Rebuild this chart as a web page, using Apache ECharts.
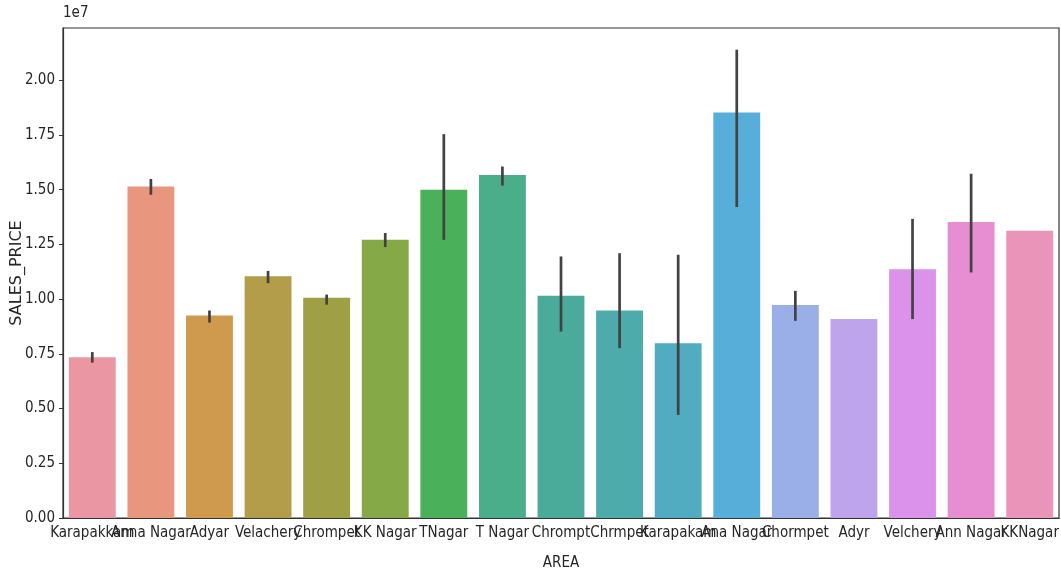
<!DOCTYPE html>
<html>
<head>
<meta charset="utf-8">
<script src="https://cdn.jsdelivr.net/npm/echarts@6/dist/echarts.min.js"></script>
<style>
  html, body { margin: 0; padding: 0; background: #fff; }
  #chart { width: 1061px; height: 575px; }
</style>
</head>
<body>
<div id="chart"></div>
<script>
// Mean sales price per area, with 95% confidence intervals
const areas = ['Karapakkam', 'Anna Nagar', 'Adyar', 'Velachery', 'Chrompet', 'KK Nagar',
  'TNagar', 'T Nagar', 'Chrompt', 'Chrmpet', 'Karapakam', 'Ana Nagar', 'Chormpet',
  'Adyr', 'Velchery', 'Ann Nagar', 'KKNagar'];
const meanPrice = [7350000, 15150000, 9250000, 11050000, 10060000, 12710000,
  15000000, 15670000, 10150000, 9480000, 7990000, 18530000, 9730000,
  9090000, 11370000, 13520000, 13120000];
const ciLow = [7100000, 14770000, 8930000, 10730000, 9750000, 12380000,
  12710000, 15190000, 8520000, 7760000, 4710000, 14210000, 9010000,
  null, 9090000, 11220000, null];
const ciHigh = [7580000, 15490000, 9480000, 11290000, 10210000, 13020000,
  17540000, 16060000, 11950000, 12100000, 12030000, 21400000, 10380000,
  null, 13670000, 15730000, null];
const barColors = ['#ea96a3', '#e8977e', '#d09a4e', '#b49d4a', '#9f9f46', '#85a946',
  '#4ab05a', '#4bae8b', '#4bab9b', '#4dabac', '#51abc1', '#56aed9', '#9aaee7',
  '#bea4ea', '#db92ea', '#e78ed3', '#ea94ba'];

const narrow = "'DejaVu Sans Condensed', sans-serif";

const errData = areas.map((a, i) => [i, ciLow[i], ciHigh[i]]).filter(d => d[1] != null);

const chart = echarts.init(document.getElementById('chart'), null, { renderer: 'canvas' });
chart.setOption({
  animation: false,
  backgroundColor: '#fff',
  grid: {
    left: 63, right: 2, top: 28, bottom: 57,
    outerBoundsMode: 'none', containLabel: false,
    show: true, borderColor: '#333', borderWidth: 1.2
  },
  graphic: [{
    type: 'text', left: 63, top: 6,
    style: { text: '1e7', font: '15px ' + narrow, fill: '#262626' }
  }],
  xAxis: {
    type: 'category',
    data: areas,
    name: 'AREA',
    nameLocation: 'middle',
    nameGap: 38,
    nameTextStyle: { fontFamily: narrow, fontSize: 15, color: '#262626' },
    axisLine: { lineStyle: { color: '#333', width: 1.2 } },
    axisTick: { alignWithLabel: true, length: 4, lineStyle: { color: '#333' } },
    axisLabel: { interval: 0, margin: 8, fontFamily: narrow, fontSize: 15, color: '#262626' }
  },
  yAxis: {
    type: 'value',
    min: 0,
    max: 22390000,
    interval: 2500000,
    name: 'SALES_PRICE',
    nameLocation: 'middle',
    nameGap: 38,
    nameMoveOverlap: false,
    nameTextStyle: { fontFamily: 'DejaVu Sans', fontSize: 16, color: '#262626' },
    splitLine: { show: false },
    axisLine: { show: true, lineStyle: { color: '#333', width: 1.2 } },
    axisTick: { show: true, length: 4, lineStyle: { color: '#333' } },
    axisLabel: {
      showMaxLabel: false,
      margin: 8,
      fontFamily: narrow, fontSize: 15, color: '#262626',
      formatter: v => (v / 1e7).toFixed(2)
    }
  },
  series: [{
    type: 'bar',
    data: meanPrice,
    barCategoryGap: '20%',
    itemStyle: { color: p => barColors[p.dataIndex] }
  }, {
    type: 'custom',
    data: errData,
    z: 5,
    renderItem: (params, api) => {
      const lo = api.coord([api.value(0), api.value(1)]);
      const hi = api.coord([api.value(0), api.value(2)]);
      return {
        type: 'line',
        shape: { x1: lo[0], y1: lo[1], x2: hi[0], y2: hi[1] },
        style: { stroke: '#424242', lineWidth: 2.7 }
      };
    }
  }]
});
</script>
</body>
</html>
